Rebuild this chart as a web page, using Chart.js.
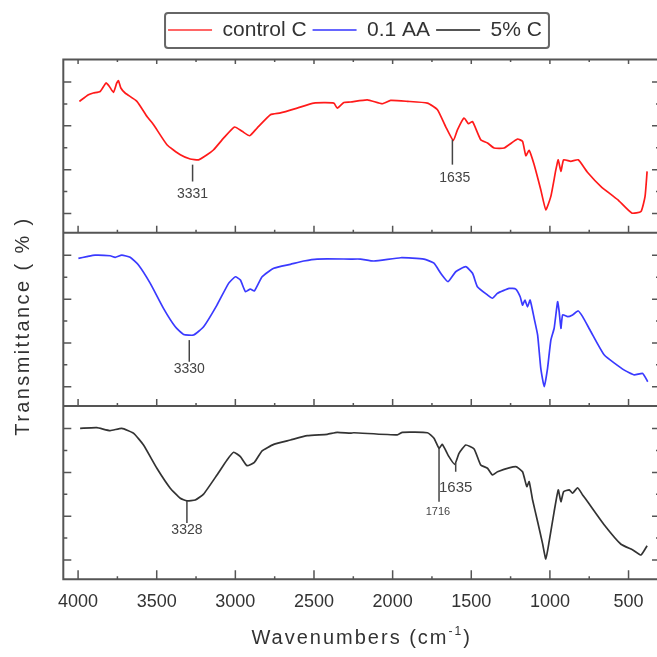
<!DOCTYPE html>
<html><head><meta charset="utf-8">
<script src="https://cdn.jsdelivr.net/npm/chart.js@4.4.1/dist/chart.umd.min.js"></script>
<style>html,body{margin:0;padding:0;overflow:hidden;background:#fff;width:657px;height:657px}canvas{display:block}</style>
</head><body>
<canvas id="c" width="664" height="657"></canvas>
<script>
// ---- data ----
const seriesLabels = ['control C', '0.1 AA', '5% C'];
const controlX = [3992,3934,3903,3860,3822,3801,3775,3754,3743,3728,3701,3626,3562,3520,3435,3350,3287,3234,3180,3138,3075,3005,2957,2909,2862,2777,2713,2607,2501,2374,2352,2310,2268,2161,2066,2013,1906,1779,1715,1663,1614,1588,1546,1518,1492,1440,1397,1355,1291,1206,1174,1153,1132,1100,1058,1026,994,962,947,930,913,867,820,760,675,569,480,421,395,382];
const controlY = [51.2,54.2,55.0,55.7,59.6,58.0,55.3,59.6,60.6,57.3,55.0,51.2,44.3,40.5,31.4,26.8,24.9,24.5,26.8,29.1,34.4,39.5,37.5,35.5,39.0,45.1,45.9,48.1,50.4,50.4,48.1,50.7,50.9,51.9,50.1,51.6,51.2,50.4,47.4,39.7,33.3,38.2,43.6,41.0,42.0,33.7,32.2,29.9,29.9,34.0,32.9,26.4,28.8,22.2,10.8,1.7,7.8,20.0,24.5,19.2,24.5,23.8,24.5,18.7,12.3,6.3,0.2,0.9,7.8,19.2];
const aaX = [3998,3945,3892,3796,3764,3722,3669,3616,3541,3457,3382,3329,3266,3202,3117,3043,3000,2968,2936,2905,2879,2830,2756,2650,2565,2480,2268,2204,2119,1949,1801,1737,1694,1648,1599,1535,1492,1461,1397,1365,1333,1259,1217,1189,1174,1159,1142,1126,1100,1078,1058,1036,1015,994,973,951,941,930,919,887,856,820,792,739,654,527,463,410,378];
const aaY = [58.6,59.4,60.1,59.8,59.1,60.1,59.1,55.6,47.2,35.8,27.4,23.9,23.6,27.4,37.3,47.2,50.2,48.7,43.4,44.6,43.7,50.2,54.1,55.9,57.4,58.3,58.3,58.3,57.4,58.9,58.3,56.4,51.8,48.0,52.5,54.8,51.8,45.7,41.9,40.4,42.7,44.9,44.6,41.1,37.3,39.6,36.5,39.6,31.2,23.6,8.4,0.0,8.4,21.3,26.7,38.8,34.3,26.7,32.8,32.0,32.8,34.6,32.0,25.1,14.5,7.6,5.4,6.1,2.3];
const c5X = [3987,3881,3796,3722,3648,3584,3499,3414,3350,3308,3255,3202,3117,3053,3011,2968,2926,2879,2830,2756,2650,2543,2416,2352,2268,2247,1970,1938,1779,1737,1705,1684,1642,1605,1578,1535,1482,1440,1397,1365,1333,1217,1174,1147,1132,1110,1078,1047,1026,1005,973,947,930,913,877,856,824,792,760,654,548,473,421,382];
const c5Y = [60.1,60.4,59.1,60.1,57.9,52.5,41.9,32.8,28.2,27.0,27.4,30.1,38.8,45.7,49.2,47.2,43.1,44.6,49.8,52.8,54.8,56.8,57.4,58.3,57.9,58.1,57.1,58.3,58.1,55.6,51.0,52.8,47.2,43.7,48.7,52.5,50.7,43.4,41.9,38.8,40.3,42.6,40.3,33.5,35.8,27.4,17.5,7.6,0.5,8.4,22.1,32.0,26.6,31.2,32.0,30.5,33.0,29.7,26.6,16.0,7.2,4.6,2.3,6.5];

// tick values
const xTickValues = [4000, 3500, 3000, 2500, 2000, 1500, 1000, 500];
const yTickValues = [0, 10, 20, 30, 40, 50, 60];

// peak annotations
const peakText  = ['3331', '1635', '3330', '3328', '1716', '1635'];
const peakAxis  = ['yTop', 'yTop', 'yMid', 'yBot', 'yBot', 'yBot'];
const peakX     = [3272, 1620, 3293, 3308, 1705, 1599];
const peakYFrom = [22.3, 33.7, 21.3, 26.9, 51.2, 44.3];
const peakYTo   = [14.6, 22.3, 11.4, 16.9, 26.6, 40.3];
const peakLabX  = [3272, 1605, 3293, 3308, 1712, 1599];
const peakLabY  = [9.0, 16.3, 8.1, 13.7, 22.1, 33.0];
const peakFont  = [14, 14, 14, 14, 11, 15];

const xMin = 300, xMax = 4094;
const yMin = -8.8, yMax = 70.3;

const lineColors = ['#ff1a1a', '#3a3aff', '#333333'];
const legendColors = ['#ff6666', '#6666ff', '#555555'];

const toPts = (xs, ys) => xs.map((x, i) => ({x: x, y: ys[i]}));

const framePlugin = {
  id: 'frame',
  beforeLayout(chart) {
    const lg = chart.legend;
    if (lg && !lg._patched) {
      const f = lg.fit;
      lg.fit = function () { f.call(this); this.height += 9; };
      lg._patched = true;
    }
  },
  afterDatasetsDraw(chart) {
    const ctx = chart.ctx, ca = chart.chartArea, xs = chart.scales.x;
    const panels = ['yTop', 'yMid', 'yBot'].map(id => chart.scales[id]);
    ctx.save();
    ctx.strokeStyle = '#555';
    ctx.lineWidth = 2;
    ctx.beginPath();
    ctx.moveTo(ca.left, ca.top); ctx.lineTo(ca.left, ca.bottom);
    ctx.moveTo(ca.right, ca.top); ctx.lineTo(ca.right, ca.bottom);
    panels.forEach(p => {
      ctx.moveTo(ca.left - 1, p.top); ctx.lineTo(ca.right, p.top);
      ctx.moveTo(ca.left - 1, p.bottom); ctx.lineTo(ca.right, p.bottom);
    });
    ctx.stroke();
    // x tick marks
    const maj = xs.ticks.map(t => t.value).sort((a, b) => a - b);
    const mnr = [];
    for (let i = 0; i < maj.length - 1; i++) mnr.push((maj[i] + maj[i + 1]) / 2);
    ctx.lineWidth = 1.5;
    ctx.beginPath();
    panels.forEach((p, k) => {
      const L = k === 2 ? 9 : 7;
      maj.forEach(v => { const px = xs.getPixelForValue(v); ctx.moveTo(px, p.bottom); ctx.lineTo(px, p.bottom - L); });
      mnr.forEach(v => { const px = xs.getPixelForValue(v); ctx.moveTo(px, p.bottom); ctx.lineTo(px, p.bottom - 3); });
    });
    maj.forEach(v => { const px = xs.getPixelForValue(v); ctx.moveTo(px, ca.top); ctx.lineTo(px, ca.top + 4.5); });
    mnr.forEach(v => { const px = xs.getPixelForValue(v); ctx.moveTo(px, ca.top); ctx.lineTo(px, ca.top + 2.5); });
    // y tick marks
    panels.forEach(p => {
      p.ticks.forEach(t => {
        const py = p.getPixelForValue(t.value);
        const L = Math.round(t.value) % 20 === 0 ? 8 : 4;
        ctx.moveTo(ca.left, py); ctx.lineTo(ca.left + L, py);
        ctx.moveTo(ca.right, py); ctx.lineTo(ca.right - L, py);
      });
    });
    ctx.stroke();
    // peak annotations
    ctx.strokeStyle = '#444';
    ctx.lineWidth = 1.5;
    ctx.fillStyle = '#444';
    ctx.textAlign = 'center';
    ctx.textBaseline = 'middle';
    peakText.forEach((txt, i) => {
      const ys = chart.scales[peakAxis[i]];
      const px = xs.getPixelForValue(peakX[i]);
      ctx.beginPath();
      ctx.moveTo(px, ys.getPixelForValue(peakYFrom[i]));
      ctx.lineTo(px, ys.getPixelForValue(peakYTo[i]));
      ctx.stroke();
      ctx.font = peakFont[i] + 'px "Liberation Sans", Arial, sans-serif';
      ctx.fillText(txt, xs.getPixelForValue(peakLabX[i]), ys.getPixelForValue(peakLabY[i]));
    });
    ctx.restore();
  },
  afterDraw(chart) {
    const ctx = chart.ctx, ca = chart.chartArea;
    ctx.save();
    // legend frame
    const hb = chart.legend.legendHitBoxes;
    if (hb && hb.length) {
      const l = Math.min(...hb.map(h => h.left)) - 3;
      const r = Math.max(...hb.map(h => h.left + h.width)) + 7;
      const t = hb[0].top - 6.5;
      const b = hb[0].top + hb[0].height + 7.5;
      ctx.strokeStyle = '#666';
      ctx.lineWidth = 2;
      ctx.beginPath();
      ctx.roundRect(l, t, r - l, b - t, 3);
      ctx.stroke();
    }
    // axis titles
    ctx.fillStyle = '#333';
    ctx.textBaseline = 'middle';
    const font = '20px "Liberation Sans", Arial, sans-serif';
    const supFont = '12px "Liberation Sans", Arial, sans-serif';
    ctx.letterSpacing = '2px';
    ctx.font = font;
    const a = 'Wavenumbers (cm', c = ')';
    const wa = ctx.measureText(a).width, wc = ctx.measureText(c).width;
    ctx.font = supFont;
    const sup = '-1';
    const ws = ctx.measureText(sup).width;
    const cx = (ca.left + ca.right) / 2;
    const ty = ca.bottom + 58.7;
    let x0 = cx - (wa + ws + wc) / 2;
    ctx.textAlign = 'left';
    ctx.font = font; ctx.fillText(a, x0, ty);
    ctx.font = supFont; ctx.fillText(sup, x0 + wa, ty - 6);
    ctx.font = font; ctx.fillText(c, x0 + wa + ws, ty);
    // y title
    ctx.letterSpacing = '2.4px';
    ctx.translate(23, 326);
    ctx.rotate(-Math.PI / 2);
    ctx.textAlign = 'center';
    ctx.fillText('Transmittance ( % )', 0, 0);
    ctx.restore();
  }
};

const yCommon = () => ({
  type: 'linear', position: 'left', stack: 'panels', stackWeight: 1,
  min: yMin, max: yMax,
  ticks: {display: false},
  afterBuildTicks: s => { s.ticks = yTickValues.map(v => ({value: v})); },
  grid: {display: false, drawTicks: false},
  border: {display: false},
  afterFit: s => { s.width = 13.3; }
});

new Chart(document.getElementById('c'), {
  type: 'line',
  data: {
    datasets: [
      {label: seriesLabels[0], data: toPts(controlX, controlY), yAxisID: 'yTop', borderColor: lineColors[0]},
      {label: seriesLabels[1], data: toPts(aaX, aaY), yAxisID: 'yMid', borderColor: lineColors[1]},
      {label: seriesLabels[2], data: toPts(c5X, c5Y), yAxisID: 'yBot', borderColor: lineColors[2]}
    ].map(d => Object.assign(d, {borderWidth: 1.7, pointRadius: 0, tension: 0.15, fill: false}))
  },
  options: {
    responsive: false,
    animation: false,
    devicePixelRatio: 1,
    layout: {padding: {left: 50, right: 4, top: 13.5, bottom: 0}},
    plugins: {
      tooltip: {enabled: false},
      legend: {
        position: 'top',
        labels: {
          boxWidth: 44, boxHeight: 2, padding: 6, color: '#333',
          font: {family: '"Liberation Sans", Arial, sans-serif', size: 21},
          generateLabels: ch => ch.data.datasets.map((d, i) => ({
            text: d.label, fillStyle: legendColors[i], strokeStyle: legendColors[i],
            lineWidth: 0, hidden: false, datasetIndex: i, fontColor: '#333'
          }))
        }
      }
    },
    scales: {
      x: {
        type: 'linear', position: 'bottom', reverse: true, min: xMin, max: xMax,
        afterBuildTicks: s => { s.ticks = xTickValues.map(v => ({value: v})); },
        grid: {display: false, drawTicks: false},
        border: {display: false},
        ticks: {autoSkip: false, maxRotation: 0, padding: 12, color: '#333',
                callback: v => String(v),
                font: {family: '"Liberation Sans", Arial, sans-serif', size: 18}},
        afterFit: s => { s.height = 77.7; }
      },
      yBot: yCommon(),
      yMid: yCommon(),
      yTop: yCommon()
    }
  },
  plugins: [framePlugin]
});
</script>
</body></html>
